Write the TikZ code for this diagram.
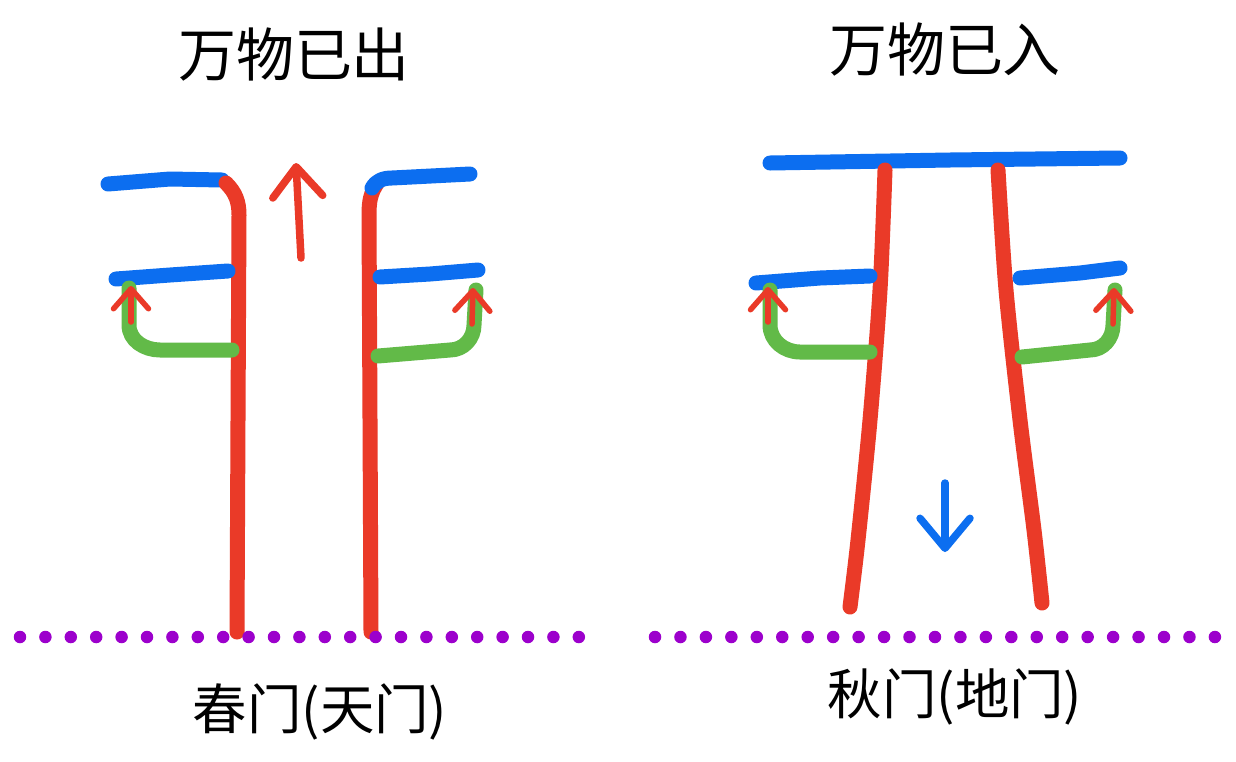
\documentclass[tikz,border=0pt]{standalone}
\usepackage{fontspec}
\newfontfamily\cjk{Noto Sans CJK SC}
\usetikzlibrary{arrows.meta}
\definecolor{penred}{RGB}{234,58,40}
\definecolor{penblue}{RGB}{12,110,240}
\definecolor{pengreen}{RGB}{98,186,72}
\definecolor{penpurple}{RGB}{156,0,204}
\begin{document}
\begin{tikzpicture}[x=0.02cm,y=-0.02cm,
  redstroke/.style={draw=penred,line width=0.3cm,line cap=round,line join=round},
  bluestroke/.style={draw=penblue,line width=0.3cm,line cap=round,line join=round},
  greenstroke/.style={draw=pengreen,line width=0.3cm,line cap=round,line join=round},
  bigarrow/.style={line width=0.15cm,line cap=round,-{Straight Barb[length=0.6cm,width=1.0cm,round]}},
  smallarrow/.style={draw=penred,line width=0.11cm,line cap=round,-{Straight Barb[length=0.4cm,width=0.7cm,round]}},
  title/.style={font=\cjk\fontsize{33}{40}\selectfont},
  gatelabel/.style={font=\cjk\fontsize{31}{38}\selectfont}]
  \useasboundingbox[fill=white] (0,0) rectangle (1236,761);

  % left: spring gate
  \node[title] (outtitle) at (294,55) {万物已出};
  \draw[bluestroke] (108,184) -- (170,179) -- (222,180);
  \draw[redstroke] (226,183) to[out=-45,in=90] (239,215) -- (238,420) -- (237,632);
  \draw[redstroke] (378,182) to[out=-125,in=90] (369,215) -- (370,420) -- (371,632);
  \draw[bluestroke] (372,188) to[out=60,in=180] (392,178) -- (470,174);
  \draw[bluestroke] (116,279) -- (170,275) -- (228,271);
  \draw[bluestroke] (380,277) -- (430,274) -- (478,270);
  \draw[greenstroke] (232,350) -- (160,350) to[out=180,in=-90] (129,325) -- (129,288);
  \draw[greenstroke] (378,356) -- (450,350) to[out=0,in=-90] (474,325) -- (476,290);
  \draw[smallarrow] (131,322) -- (131,286);
  \draw[smallarrow] (472,324) -- (473,288);
  \draw[bigarrow,penred] (301,258) -- (296,163);

  % right: autumn gate
  \node[title] (intitle) at (945,50) {万物已入};
  \draw[bluestroke] (770,163) -- (950,160) -- (1120,158);
  \draw[redstroke] plot[smooth] coordinates {(885,170) (880,290) (870,420) (858,540) (850,607)};
  \draw[redstroke] plot[smooth] coordinates {(998,170) (1006,290) (1020,420) (1034,530) (1042,603)};
  \draw[bluestroke] (756,283) -- (820,278) -- (870,276);
  \draw[bluestroke] (1020,278) -- (1080,273) -- (1120,268);
  \draw[greenstroke] (870,352) -- (800,352) to[out=180,in=-90] (770,325) -- (770,290);
  \draw[greenstroke] (1022,357) -- (1090,350) to[out=0,in=-90] (1113,325) -- (1115,290);
  \draw[smallarrow] (768,322) -- (768,287);
  \draw[smallarrow] (1113,324) -- (1114,288);
  \draw[bigarrow,penblue] (945,483) -- (945,552);

  % ground lines
  \foreach \i in {0,...,22} {
    \fill[penpurple] (20+\i*25.4,637) circle (0.125cm);
    \fill[penpurple] (655+\i*25.45,637) circle (0.125cm);
  }
  \node[gatelabel] (springgate) at (320,712) {春门(天门)};
  \node[gatelabel] (autumngate) at (955,697) {秋门(地门)};
\end{tikzpicture}
\end{document}
